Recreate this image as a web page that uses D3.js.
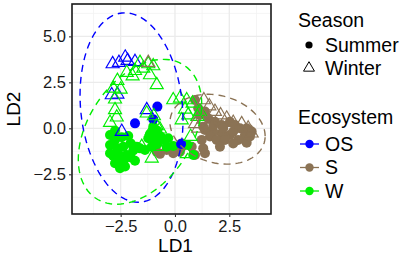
<!DOCTYPE html>
<html>
<head>
<meta charset="utf-8">
<script src="https://cdn.jsdelivr.net/npm/d3@7"></script>
<style>
  html, body { margin: 0; padding: 0; background: #fff; }
  svg { display: block; font-family: "Liberation Sans", Arial, sans-serif; }
  .tick-label { font-size: 16.5px; fill: #1a1a1a; }
  .axis-title { font-size: 19px; fill: #000; }
  .leg-title { font-size: 19.5px; fill: #000; }
  .leg-label { font-size: 19.5px; fill: #000; }
</style>
</head>
<body>
<div id="chart"></div>
<script>
// LDA scatter: LD1 vs LD2, shape = season, colour = ecosystem, dashed 95% ellipses.
const ecosystems = ["OS", "S", "W"];
const seasons = ["Summer", "Winter"];
const ecoColor = { OS: "#0000ff", S: "#8b7355", W: "#00ee00" };
const xTicks = [-2.5, 0, 2.5];
const yTicks = [-2.5, 0, 2.5, 5];

// [LD1, LD2]
const osSummer = [[-0.81, 1.18], [-1.84, 0.27], [-1.0, 0.49], [0.28, -0.85]];
const osWinter = [[-2.87, 3.5], [-2.58, 3.57], [-2.29, 3.86], [-2.18, 3.68], [-1.84, 3.62],
  [-2.91, 1.81], [-2.65, 1.85], [-1.3, 1.0], [-2.45, -0.18]];
const sSummer = [[0.92, 1.54], [1.07, 1.09], [1.15, 0.72], [1.38, 0.91], [1.53, 0.54], [1.84, 0.36],
  [2.15, 0.18], [2.53, 0.36], [2.76, 0.18], [2.99, 0.0], [3.3, 0.0], [3.53, -0.18], [3.22, -0.36],
  [3.3, -0.78], [2.91, -0.63], [2.53, -0.36], [2.15, -0.27], [1.76, -0.18], [1.38, -0.09],
  [1.61, -0.45], [1.23, -0.63], [1.92, -0.63], [2.3, -0.63], [2.68, -0.82], [1.3, -1.09],
  [0.92, -1.45], [1.38, -1.36], [0.77, -1.0], [0.23, -1.27], [-0.08, -1.36], [-0.38, -1.18],
  [-0.69, -1.39], [-0.84, -1.27], [0.31, -0.82], [2.07, -1.0], [3.45, -0.45], [2.68, -0.18],
  [2.22, 0.0], [1.76, 0.13], [1.3, 0.09]];
const sWinter = [[-1.23, 3.57], [1.33, 1.54], [1.58, 1.21], [1.84, 0.91], [1.3, 0.49], [1.61, 0.24],
  [2.1, 0.72], [2.38, 0.54], [2.68, 0.31], [3.07, 0.24], [3.37, 0.0], [3.53, -0.27], [0.92, 0.24],
  [1.07, 0.0]];
const wSummer = [[-2.99, -0.91], [-2.76, -0.63], [-2.65, -1.09], [-2.84, -1.5], [-2.61, -1.81],
  [-2.3, -2.08], [-2.53, -2.17], [-2.76, -1.9], [-2.22, -1.45], [-1.92, -1.21], [-1.61, -1.09],
  [-1.38, -1.18], [-2.04, -0.82], [-2.38, -1.0], [-2.45, -0.49], [-2.15, -0.42], [-2.76, -0.13],
  [-2.04, -1.58], [-1.84, -1.76], [-2.35, -1.72], [-2.61, -1.39], [-2.99, -1.36], [-1.0, 0.09],
  [-0.81, -0.13], [-1.15, -0.31], [-0.66, -0.45], [-0.51, -0.63], [-0.31, -0.54], [-0.97, -0.54],
  [-0.81, -0.85], [-1.07, -1.0], [-0.38, -1.0], [-0.08, -0.96], [0.57, -0.91], [0.84, -1.45],
  [-1.23, -0.54], [-1.76, -1.0], [-2.99, -0.36]];
const wWinter = [[-1.61, 3.57], [-1.23, 3.5], [-1.0, 3.39], [-1.46, 3.26], [-1.84, 3.13], [-2.22, 3.03],
  [-1.95, 2.84], [-1.15, 2.9], [-0.84, 2.36], [-2.65, 2.59], [-2.84, 2.17], [-2.5, 2.12],
  [-2.76, 1.58], [-2.76, 1.0], [-2.68, 0.6], [-2.99, 0.31], [-1.3, 0.82], [-0.97, 0.67],
  [-0.84, 0.13], [-0.69, -0.05], [-1.07, -0.13], [-0.08, 1.54], [0.23, 1.63], [0.54, 1.54],
  [0.81, 1.36], [0.46, 1.03], [0.61, 0.72], [1.15, 0.91], [1.03, 0.63], [0.31, 0.45],
  [-1.53, -1.0], [-0.61, -1.0], [0.72, -0.45], [0.54, -1.39], [-1.07, -1.63]];

// ellipse: centre, half-spread in x / y, correlation
const ellipses = [
  { eco: "OS", cx: -2.0, cy: 1.13, sx: 2.37, sy: 5.15, r: -0.13 },
  { eco: "W", cx: -1.61, cy: -0.19, sx: 2.84, sy: 3.94, r: 0.38 },
  { eco: "S", cx: 1.96, cy: -0.05, sx: 2.19, sy: 1.9, r: -0.2 }
];

const layers = [
  { eco: "S", season: "Summer", pts: sSummer },
  { eco: "W", season: "Summer", pts: wSummer },
  { eco: "OS", season: "Summer", pts: osSummer },
  { eco: "OS", season: "Winter", pts: osWinter },
  { eco: "W", season: "Winter", pts: wWinter },
  { eco: "S", season: "Winter", pts: sWinter }
];

const width = 403, height = 261;
const m = { left: 72, top: 4, right: 132, bottom: 47 };
const iW = width - m.left - m.right;
const iH = height - m.top - m.bottom;

const x = d3.scaleLinear([-4.74, 4.42], [0, iW]);
const y = d3.scaleLinear([-4.66, 6.76], [iH, 0]);

const svg = d3.select("#chart").append("svg")
  .attr("width", width).attr("height", height);
const g = svg.append("g").attr("transform", `translate(${m.left},${m.top})`);

g.append("defs").append("clipPath").attr("id", "panel")
  .append("rect").attr("width", iW).attr("height", iH);

// grid
const minorX = [-3.75, -1.25, 1.25, 3.75];
const minorY = [-3.75, -1.25, 1.25, 3.75, 6.25];
const grid = g.append("g");
grid.selectAll(".mx").data(minorX).join("line")
  .attr("x1", d => x(d)).attr("x2", d => x(d)).attr("y1", 0).attr("y2", iH)
  .attr("stroke", "#f2f2f2").attr("stroke-width", 0.8);
grid.selectAll(".my").data(minorY).join("line")
  .attr("y1", d => y(d)).attr("y2", d => y(d)).attr("x1", 0).attr("x2", iW)
  .attr("stroke", "#f2f2f2").attr("stroke-width", 0.8);
grid.selectAll(".gx").data(xTicks).join("line")
  .attr("x1", d => x(d)).attr("x2", d => x(d)).attr("y1", 0).attr("y2", iH)
  .attr("stroke", "#ebebeb").attr("stroke-width", 1.3);
grid.selectAll(".gy").data(yTicks).join("line")
  .attr("y1", d => y(d)).attr("y2", d => y(d)).attr("x1", 0).attr("x2", iW)
  .attr("stroke", "#ebebeb").attr("stroke-width", 1.3);

// points
const plot = g.append("g").attr("clip-path", "url(#panel)");
const tri = d3.symbol(d3.symbolTriangle, 74);
layers.forEach(L => {
  const sel = plot.append("g").selectAll("path").data(L.pts).join("path")
    .attr("transform", d => `translate(${x(d[0])},${y(d[1])})`);
  if (L.season === "Summer") {
    sel.attr("d", d3.symbol(d3.symbolCircle, Math.PI * 5 * 5)())
      .attr("fill", ecoColor[L.eco]);
  } else {
    sel.attr("d", tri()).attr("fill", "none")
      .attr("stroke", ecoColor[L.eco]).attr("stroke-width", 1.15);
  }
});

// ellipses
const ellLine = d3.line().x(d => x(d[0])).y(d => y(d[1]));
ellipses.forEach(e => {
  const pts = d3.range(0, 101).map(i => {
    const t = (i / 100) * 2 * Math.PI;
    return [e.cx + e.sx * Math.cos(t),
      e.cy + e.sy * (e.r * Math.cos(t) + Math.sqrt(1 - e.r * e.r) * Math.sin(t))];
  });
  plot.append("path").attr("d", ellLine(pts)).attr("fill", "none")
    .attr("stroke", ecoColor[e.eco]).attr("stroke-width", 1.4)
    .attr("stroke-dasharray", "7,5");
});

// panel border
g.append("rect").attr("width", iW).attr("height", iH)
  .attr("fill", "none").attr("stroke", "#1a1a1a").attr("stroke-width", 1.6);

// axes
const xAxis = g.append("g").attr("transform", `translate(0,${iH})`)
  .call(d3.axisBottom(x).tickValues(xTicks).tickSize(3).tickPadding(3)
    .tickFormat(d => d3.format(".1f")(d).replace("-", "\u2212")));
const yAxis = g.append("g")
  .call(d3.axisLeft(y).tickValues(yTicks).tickSize(3).tickPadding(3)
    .tickFormat(d => d3.format(".1f")(d).replace("-", "\u2212")));
[xAxis, yAxis].forEach(a => {
  a.select(".domain").remove();
  a.selectAll(".tick line").attr("stroke", "#333").attr("stroke-width", 1.1);
  a.selectAll(".tick text").attr("class", "tick-label").attr("font-family", null).attr("font-size", null);
});

g.append("text").attr("class", "axis-title").attr("text-anchor", "middle")
  .attr("x", iW / 2 + 4).attr("y", iH + 38).text("LD1");
g.append("text").attr("class", "axis-title").attr("text-anchor", "middle")
  .attr("transform", `translate(${-52},${iH / 2}) rotate(-90)`).text("LD2");

// legends
const leg = svg.append("g");
leg.append("text").attr("class", "leg-title").attr("x", 298).attr("y", 27).text("Season");
seasons.forEach((s, i) => {
  const cy = 45 + i * 23;
  if (s === "Summer") {
    leg.append("circle").attr("cx", 309).attr("cy", cy).attr("r", 3.6).attr("fill", "#000");
  } else {
    leg.append("path").attr("d", d3.symbol(d3.symbolTriangle, 52)()).attr("transform", `translate(309,${cy})`)
      .attr("fill", "none").attr("stroke", "#000").attr("stroke-width", 1);
  }
  leg.append("text").attr("class", "leg-label").attr("x", 325).attr("y", cy)
    .attr("dy", "0.35em").text(s);
});
leg.append("text").attr("class", "leg-title").attr("x", 298).attr("y", 124).text("Ecosystem");
ecosystems.forEach((e, i) => {
  const cy = 144 + i * 23.5;
  leg.append("line").attr("x1", 300).attr("x2", 319).attr("y1", cy).attr("y2", cy)
    .attr("stroke", ecoColor[e]).attr("stroke-width", 1.3);
  leg.append("circle").attr("cx", 309.5).attr("cy", cy).attr("r", 4.2).attr("fill", ecoColor[e]);
  leg.append("text").attr("class", "leg-label").attr("x", 325).attr("y", cy)
    .attr("dy", "0.35em").text(e);
});
</script>
</body>
</html>
